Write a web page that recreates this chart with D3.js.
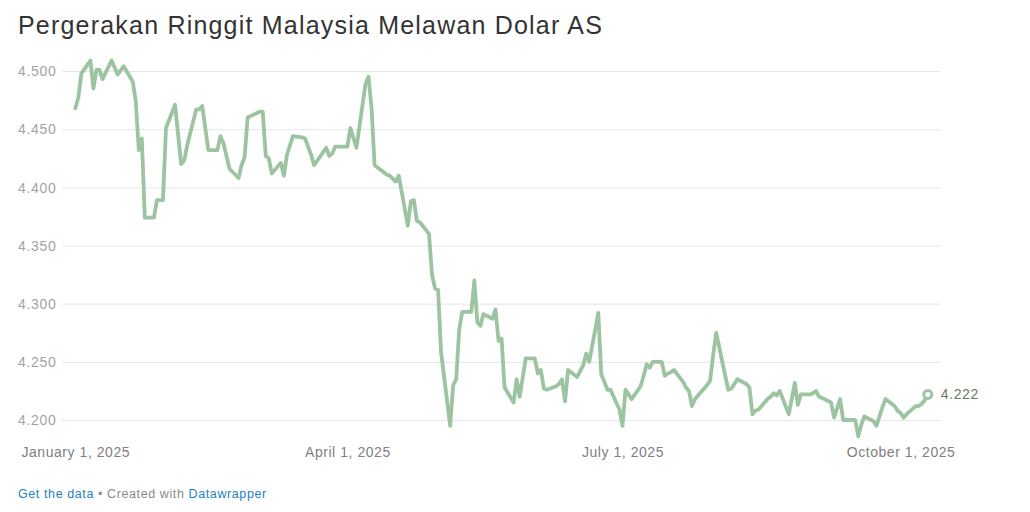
<!DOCTYPE html>
<html>
<head>
<meta charset="utf-8">
<script src="https://cdn.jsdelivr.net/npm/d3@7"></script>
<style>
  body { margin: 0; background: #fff; }
  svg { display: block; font-family: "Liberation Sans", Arial, sans-serif; }
  .grid line { stroke: #e6e6e6; stroke-width: 1; }
  .y-label { fill: #a3a3a3; font-size: 14px; letter-spacing: 0.7px; }
  .x-label { fill: #808080; font-size: 14px; letter-spacing: 0.55px; }
  .title { fill: #333; font-size: 25px; letter-spacing: 1.2px; }
  .footer { font-size: 12.5px; fill: #8a8a8a; letter-spacing: 0.6px; }
  .footer .link { fill: #1d81c4; }
  .rate-line { fill: none; stroke: #9cc4a0; stroke-width: 3.8; stroke-linejoin: round; stroke-linecap: round; }
  .end-dot { fill: #fff; stroke: #9cc4a0; stroke-width: 3; }
  .end-label { fill: #5f8062; font-size: 14px; letter-spacing: 0.6px; }
</style>
</head>
<body>
<div id="chart"></div>
<script>
// MYR per USD, 2025
const dates = [
  '2025-01-01', '2025-01-02', '2025-01-03', '2025-01-06', '2025-01-07', '2025-01-08', '2025-01-09', '2025-01-10',
  '2025-01-13', '2025-01-15', '2025-01-17', '2025-01-20', '2025-01-21', '2025-01-22', '2025-01-23', '2025-01-24',
  '2025-01-27', '2025-01-28', '2025-01-30', '2025-01-31', '2025-02-03', '2025-02-05', '2025-02-06', '2025-02-07',
  '2025-02-10', '2025-02-11', '2025-02-12', '2025-02-14', '2025-02-17', '2025-02-18', '2025-02-19', '2025-02-21',
  '2025-02-24', '2025-02-25', '2025-02-26', '2025-02-27', '2025-03-03', '2025-03-04', '2025-03-05', '2025-03-06',
  '2025-03-07', '2025-03-10', '2025-03-11', '2025-03-12', '2025-03-14', '2025-03-17', '2025-03-18', '2025-03-20',
  '2025-03-21', '2025-03-25', '2025-03-26', '2025-03-27', '2025-03-28', '2025-04-01', '2025-04-02', '2025-04-04',
  '2025-04-07', '2025-04-08', '2025-04-09', '2025-04-10', '2025-04-14', '2025-04-15', '2025-04-17', '2025-04-18',
  '2025-04-21', '2025-04-22', '2025-04-23', '2025-04-24', '2025-04-25', '2025-04-28', '2025-04-29', '2025-04-30',
  '2025-05-01', '2025-05-02', '2025-05-05', '2025-05-06', '2025-05-07', '2025-05-08', '2025-05-09', '2025-05-12',
  '2025-05-13', '2025-05-14', '2025-05-15', '2025-05-16', '2025-05-19', '2025-05-20', '2025-05-21', '2025-05-22',
  '2025-05-23', '2025-05-26', '2025-05-27', '2025-05-28', '2025-05-30', '2025-06-02', '2025-06-03', '2025-06-04',
  '2025-06-05', '2025-06-06', '2025-06-09', '2025-06-10', '2025-06-11', '2025-06-12', '2025-06-13', '2025-06-16',
  '2025-06-17', '2025-06-18', '2025-06-19', '2025-06-20', '2025-06-23', '2025-06-24', '2025-06-25', '2025-06-26',
  '2025-06-27', '2025-06-30', '2025-07-01', '2025-07-02', '2025-07-03', '2025-07-04', '2025-07-07', '2025-07-08',
  '2025-07-09', '2025-07-10', '2025-07-11', '2025-07-14', '2025-07-15', '2025-07-16', '2025-07-17', '2025-07-18',
  '2025-07-21', '2025-07-22', '2025-07-23', '2025-07-24', '2025-07-25', '2025-07-28', '2025-07-29', '2025-07-30',
  '2025-07-31', '2025-08-01', '2025-08-04', '2025-08-05', '2025-08-06', '2025-08-07', '2025-08-08', '2025-08-11',
  '2025-08-12', '2025-08-13', '2025-08-14', '2025-08-15', '2025-08-18', '2025-08-19', '2025-08-20', '2025-08-21',
  '2025-08-22', '2025-08-25', '2025-08-26', '2025-08-27', '2025-08-28', '2025-08-29', '2025-09-01', '2025-09-02',
  '2025-09-03', '2025-09-04', '2025-09-05', '2025-09-08', '2025-09-09', '2025-09-10', '2025-09-11', '2025-09-12',
  '2025-09-15', '2025-09-16', '2025-09-17', '2025-09-18', '2025-09-19', '2025-09-22', '2025-09-23', '2025-09-24',
  '2025-09-25', '2025-09-26', '2025-09-29', '2025-09-30', '2025-10-01', '2025-10-02', '2025-10-03', '2025-10-06',
  '2025-10-07', '2025-10-08', '2025-10-09', '2025-10-10'
];

const rates = [
  4.468, 4.477, 4.498, 4.509, 4.485, 4.501, 4.501, 4.493,
  4.509, 4.497, 4.504, 4.491, 4.474, 4.432, 4.442, 4.374,
  4.374, 4.389, 4.389, 4.451, 4.471, 4.420, 4.423, 4.436,
  4.467, 4.467, 4.470, 4.432, 4.432, 4.444, 4.438, 4.416,
  4.408, 4.419, 4.426, 4.460, 4.465, 4.465, 4.427, 4.425,
  4.412, 4.421, 4.410, 4.428, 4.444, 4.443, 4.442, 4.428,
  4.419, 4.434, 4.427, 4.429, 4.435, 4.435, 4.451, 4.434,
  4.489, 4.495, 4.468, 4.419, 4.411, 4.410, 4.405, 4.410,
  4.367, 4.388, 4.389, 4.371, 4.370, 4.360, 4.325, 4.313,
  4.312, 4.258, 4.195, 4.230, 4.235, 4.278, 4.293, 4.293,
  4.320, 4.284, 4.281, 4.291, 4.287, 4.295, 4.268, 4.270,
  4.228, 4.215, 4.235, 4.220, 4.253, 4.253, 4.240, 4.243,
  4.227, 4.226, 4.229, 4.231, 4.235, 4.216, 4.243, 4.237,
  4.242, 4.247, 4.257, 4.250, 4.292, 4.239, 4.233, 4.226,
  4.226, 4.209, 4.195, 4.226, 4.222, 4.218, 4.229, 4.238,
  4.248, 4.245, 4.250, 4.250, 4.238, 4.240, 4.241, 4.243,
  4.233, 4.228, 4.225, 4.212, 4.218, 4.227, 4.230, 4.234,
  4.256, 4.275, 4.238, 4.226, 4.227, 4.231, 4.235, 4.231,
  4.228, 4.205, 4.208, 4.209, 4.218, 4.220, 4.223, 4.221,
  4.225, 4.205, 4.218, 4.232, 4.213, 4.222, 4.222, 4.223,
  4.225, 4.220, 4.219, 4.215, 4.202, 4.210, 4.218, 4.200,
  4.200, 4.200, 4.186, 4.196, 4.203, 4.199, 4.195, 4.203,
  4.211, 4.218, 4.212, 4.208, 4.206, 4.202, 4.205, 4.212,
  4.212, 4.214, 4.217, 4.222
];

const yTicks = [4.2, 4.25, 4.3, 4.35, 4.4, 4.45, 4.5];
const xTicks = ['2025-01-01', '2025-04-01', '2025-07-01', '2025-10-01'];

const title = 'Pergerakan Ringgit Malaysia Melawan Dolar AS';

const width = 1030;
const height = 512;

const parseDate = d3.timeParse('%Y-%m-%d');
const data = dates.map((d, i) => ({ date: parseDate(d), value: rates[i] }));

const x = d3
  .scaleTime()
  .domain([parseDate('2025-01-01'), parseDate('2025-10-10')])
  .range([75.3, 927.8]);

const y = d3.scaleLinear().domain([4.2, 4.5]).range([420, 71]);

const svg = d3
  .select('#chart')
  .append('svg')
  .attr('width', width)
  .attr('height', height);

svg.append('text').attr('class', 'title').attr('x', 18).attr('y', 34).text(title);

// gridlines + y labels
const yAxis = d3
  .axisRight(y)
  .tickValues(yTicks)
  .tickSize(940 - 62)
  .tickFormat(d3.format('.3f'));

const yG = svg.append('g').attr('class', 'grid').attr('transform', 'translate(62,0)').call(yAxis);
yG.select('.domain').remove();
yG.attr('font-size', null).attr('font-family', null);
yG.selectAll('.tick text')
  .attr('class', 'y-label')
  .attr('x', 18 - 62)
  .attr('dy', '0.34em')
  .attr('text-anchor', 'start')
  .attr('fill', null);

// x labels
const xAxis = d3
  .axisBottom(x)
  .tickValues(xTicks.map(parseDate))
  .tickSize(0)
  .tickFormat(d3.timeFormat('%B %-d, %Y'));

const xG = svg.append('g').attr('transform', 'translate(0,436)').call(xAxis);
xG.select('.domain').remove();
xG.attr('font-size', null).attr('font-family', null);
xG.selectAll('.tick text').attr('class', 'x-label').attr('fill', null).attr('dy', '0.35em').attr('y', 16);

// line
const line = d3
  .line()
  .x((d) => x(d.date))
  .y((d) => y(d.value));

svg.append('path').datum(data).attr('class', 'rate-line').attr('d', line);

const last = data[data.length - 1];
svg
  .append('circle')
  .attr('class', 'end-dot')
  .attr('cx', x(last.date))
  .attr('cy', y(last.value))
  .attr('r', 4);

svg
  .append('text')
  .attr('class', 'end-label')
  .attr('x', x(last.date) + 13)
  .attr('y', y(last.value))
  .attr('dy', '0.35em')
  .text(d3.format('.3f')(last.value));

// footer
const footer = svg.append('text').attr('class', 'footer').attr('x', 18).attr('y', 498);
footer.append('tspan').attr('class', 'link').text('Get the data');
footer.append('tspan').text(' • Created with ');
footer.append('tspan').attr('class', 'link').text('Datawrapper');
</script>
</body>
</html>
